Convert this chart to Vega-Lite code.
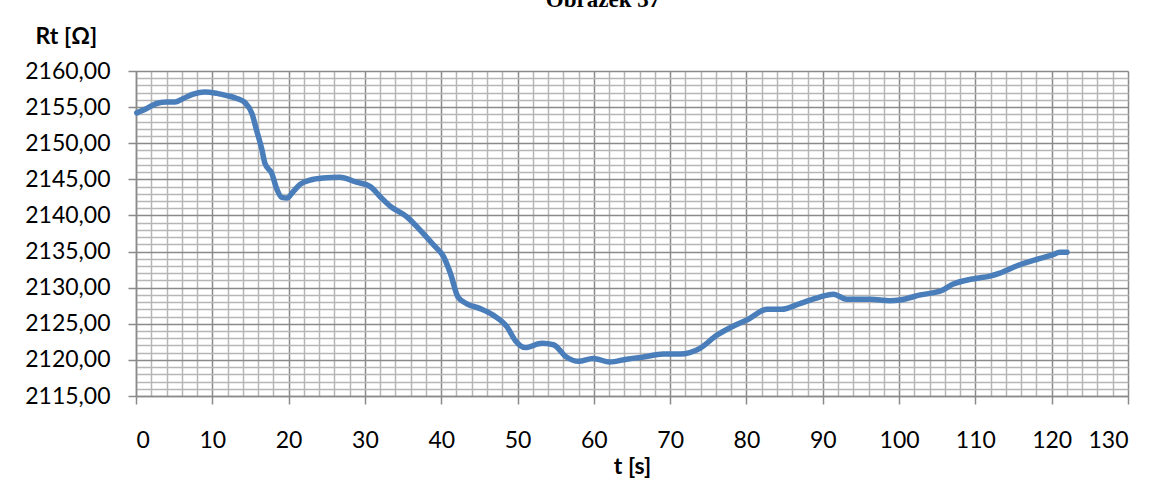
{
  "$schema": "https://vega.github.io/schema/vega-lite/v6.json",
  "width": 992,
  "height": 325,
  "autosize": "none",
  "padding": {"left": 136, "top": 71, "right": 31, "bottom": 85},
  "background": "white",
  "title": {
    "text": "Obrázek 37",
    "font": "Liberation Serif",
    "fontSize": 23,
    "fontWeight": "bold",
    "color": "black",
    "anchor": "middle",
    "frame": "group",
    "baseline": "alphabetic",
    "offset": 0,
    "dy": 5,
    "dx": -29
  },
  "config": {
    "view": {"stroke": null},
    "font": "Lato"
  },
  "data": {
    "values": [
      {"t": 0.1, "R": 2154.2}, {"t": 1.4, "R": 2154.8}, {"t": 2.7, "R": 2155.5}, {"t": 4.0, "R": 2155.7},
      {"t": 5.1, "R": 2155.7}, {"t": 6.2, "R": 2156.2}, {"t": 7.5, "R": 2156.8}, {"t": 9.0, "R": 2157.1},
      {"t": 10.6, "R": 2156.9}, {"t": 11.9, "R": 2156.6}, {"t": 13.2, "R": 2156.2}, {"t": 14.3, "R": 2155.6},
      {"t": 15.2, "R": 2154.1}, {"t": 15.8, "R": 2151.8}, {"t": 16.5, "R": 2149.1}, {"t": 16.9, "R": 2147.2},
      {"t": 17.8, "R": 2145.8}, {"t": 18.4, "R": 2143.8}, {"t": 19.1, "R": 2142.5}, {"t": 19.8, "R": 2142.4},
      {"t": 20.6, "R": 2143.3}, {"t": 21.5, "R": 2144.3}, {"t": 22.8, "R": 2144.9}, {"t": 24.5, "R": 2145.2},
      {"t": 26.7, "R": 2145.3}, {"t": 28.9, "R": 2144.6}, {"t": 30.7, "R": 2144.0}, {"t": 32.0, "R": 2142.6},
      {"t": 33.3, "R": 2141.3}, {"t": 35.5, "R": 2139.8}, {"t": 37.2, "R": 2138.0}, {"t": 39.0, "R": 2135.9},
      {"t": 40.3, "R": 2134.3}, {"t": 41.2, "R": 2132.0}, {"t": 42.2, "R": 2128.7}, {"t": 43.3, "R": 2127.8},
      {"t": 45.1, "R": 2127.1}, {"t": 46.8, "R": 2126.2}, {"t": 48.6, "R": 2124.6}, {"t": 49.7, "R": 2122.7},
      {"t": 51.0, "R": 2121.7}, {"t": 53.2, "R": 2122.3}, {"t": 54.7, "R": 2122.1}, {"t": 56.4, "R": 2120.4},
      {"t": 58.0, "R": 2119.8}, {"t": 59.9, "R": 2120.2}, {"t": 62.1, "R": 2119.7}, {"t": 64.3, "R": 2120.1},
      {"t": 66.5, "R": 2120.4}, {"t": 69.1, "R": 2120.8}, {"t": 71.3, "R": 2120.8}, {"t": 73.9, "R": 2121.6},
      {"t": 76.1, "R": 2123.4}, {"t": 78.3, "R": 2124.7}, {"t": 80.2, "R": 2125.6}, {"t": 82.7, "R": 2127.0},
      {"t": 84.6, "R": 2127.0}, {"t": 87.0, "R": 2127.8}, {"t": 89.6, "R": 2128.7}, {"t": 91.4, "R": 2129.1},
      {"t": 93.1, "R": 2128.4}, {"t": 96.2, "R": 2128.4}, {"t": 98.8, "R": 2128.2}, {"t": 100.1, "R": 2128.3},
      {"t": 102.8, "R": 2129.0}, {"t": 105.6, "R": 2129.6}, {"t": 107.1, "R": 2130.5}, {"t": 109.1, "R": 2131.1},
      {"t": 110.2, "R": 2131.3}, {"t": 111.9, "R": 2131.6}, {"t": 113.2, "R": 2132.0}, {"t": 115.4, "R": 2133.0},
      {"t": 118.0, "R": 2133.9}, {"t": 120.0, "R": 2134.5}, {"t": 121.1, "R": 2134.9}, {"t": 122.0, "R": 2134.9}
    ]
  },
  "layer": [
    {
      "mark": {"type": "line", "opacity": 0},
      "encoding": {
        "x": {
          "field": "t", "type": "quantitative",
          "scale": {"domain": [0, 130], "nice": false, "zero": false},
          "axis": {
            "orient": "bottom",
            "values": [2,4,6,8,12,14,16,18,22,24,26,28,32,34,36,38,42,44,46,48,52,54,56,58,62,64,66,68,72,74,76,78,82,84,86,88,92,94,96,98,102,104,106,108,112,114,116,118,122,124,126,128],
            "grid": true, "gridColor": "#b6b6b6", "gridWidth": 1.5,
            "labels": false, "ticks": false, "domain": false, "title": null
          }
        },
        "y": {
          "field": "R", "type": "quantitative",
          "scale": {"domain": [2115, 2160], "nice": false, "zero": false},
          "axis": {
            "orient": "left",
            "values": [2116,2117,2118,2119,2121,2122,2123,2124,2126,2127,2128,2129,2131,2132,2133,2134,2136,2137,2138,2139,2141,2142,2143,2144,2146,2147,2148,2149,2151,2152,2153,2154,2156,2157,2158,2159],
            "grid": true, "gridColor": "#b6b6b6", "gridWidth": 1.5,
            "labels": false, "ticks": false, "domain": false, "title": null
          }
        }
      }
    },
    {
      "mark": {"type": "line", "color": "#4a7ebb", "strokeWidth": 5.5, "strokeCap": "round", "strokeJoin": "round", "interpolate": "monotone"},
      "encoding": {
        "x": {
          "field": "t", "type": "quantitative",
          "scale": {"domain": [0, 130], "nice": false, "zero": false},
          "axis": {
            "orient": "bottom",
            "values": [0,10,20,30,40,50,60,70,80,90,100,110,120,130],
            "grid": true, "gridColor": "#8a8a8a", "gridWidth": 1.5,
            "domain": true, "domainColor": "#8a8a8a", "domainWidth": 1.5,
            "ticks": true, "tickColor": "#8a8a8a", "tickSize": 8, "tickWidth": 1.5,
            "labelFont": "Lato", "labelFontSize": 23, "labelColor": "black",
            "labelBaseline": "alphabetic", "labelPadding": 43,
            "title": "t [s]", "titleFont": "Lato", "titleFontSize": 23, "titleFontWeight": "bold", "titleColor": "black",
            "titleBaseline": "alphabetic", "titleY": 77, "titleX": 496, "titleAnchor": "middle"
          }
        },
        "y": {
          "field": "R", "type": "quantitative",
          "scale": {"domain": [2115, 2160], "nice": false, "zero": false},
          "axis": {
            "orient": "left",
            "values": [2115,2120,2125,2130,2135,2140,2145,2150,2155,2160],
            "labelExpr": "replace(format(datum.value, '.2f'), '.', ',')",
            "grid": true, "gridColor": "#8a8a8a", "gridWidth": 1.5,
            "domain": true, "domainColor": "#8a8a8a", "domainWidth": 1.5,
            "ticks": true, "tickColor": "#8a8a8a", "tickSize": 8, "tickWidth": 1.5,
            "labelFont": "Lato", "labelFontSize": 23, "labelColor": "black", "labelPadding": 18,
            "title": "Rt [Ω]", "titleFont": "Lato", "titleFontSize": 23, "titleFontWeight": "bold", "titleColor": "black",
            "titleAngle": 0, "titleAlign": "left", "titleBaseline": "alphabetic", "titleX": -101, "titleY": -28
          }
        }
      }
    }
  ],
  "resolve": {"axis": {"x": "independent", "y": "independent"}}
}
